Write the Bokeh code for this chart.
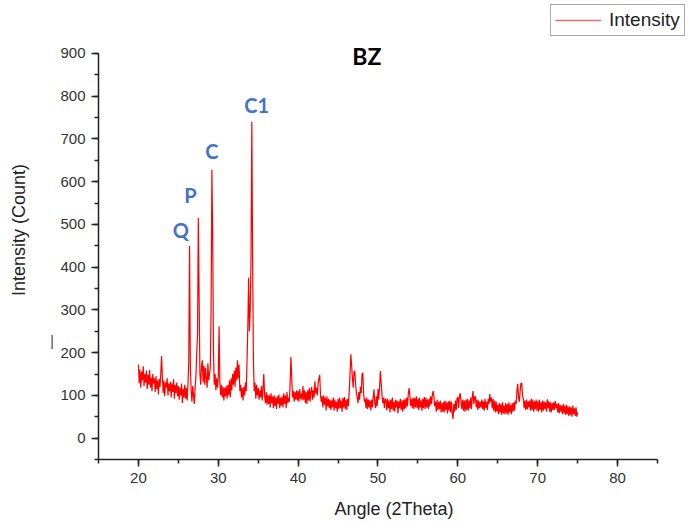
import numpy as np
from bokeh.plotting import figure
from bokeh.models import (Range1d, SingleIntervalTicker, Label, Legend, LegendItem)
from bokeh.embed import file_html
from bokeh.resources import INLINE

# ---- data ----
angle_start = 20.0
angle_step = 0.1
intensity = [
    172, 128, 160, 118, 155, 135, 168, 122, 150, 130,   # 20
    158, 115, 148, 125, 160, 118, 142, 110, 150, 128,   # 21
    140, 108, 145, 115, 135, 102, 138, 120, 152, 192,   # 22
    140, 105, 135, 98, 130, 118, 140, 100, 128, 110,    # 23
    132, 95, 128, 108, 138, 92, 125, 105, 130, 98,      # 24
    122, 90, 118, 100, 128, 82, 115, 95, 125, 92,       # 25
    118, 88, 125, 175, 450, 170, 112, 85, 122, 100,     # 26
    80, 118, 145, 200, 240, 515, 330, 150, 125, 168,    # 27
    182, 130, 170, 125, 165, 140, 118, 175, 135, 150,   # 28
    165, 300, 628, 470, 200, 125, 150, 112, 140, 118,   # 29
    142, 262, 130, 100, 125, 95, 120, 88, 118, 98,      # 30
    122, 92, 125, 100, 135, 95, 140, 112, 150, 125,     # 31
    158, 120, 165, 135, 182, 140, 172, 110, 125, 95,    # 32
    118, 88, 120, 100, 130, 110, 180, 260, 375, 250,    # 33
    300, 420, 740, 420, 180, 110, 130, 92, 125, 100,    # 34
    118, 90, 112, 95, 122, 88, 115, 150, 100, 82,       # 35
    108, 78, 102, 80, 100, 72, 105, 82, 98, 70,         # 36
    100, 75, 95, 68, 98, 80, 102, 70, 95, 76,           # 37
    98, 72, 105, 80, 100, 70, 108, 82, 95, 85,          # 38
    130, 190, 140, 95, 110, 85, 108, 90, 112, 88,       # 39
    110, 85, 115, 92, 105, 88, 122, 90, 112, 82,        # 40
    108, 80, 112, 88, 118, 85, 110, 120, 90, 112,       # 41
    95, 133, 105, 118, 100, 128, 140, 148, 100, 85,     # 42
    98, 72, 100, 78, 95, 65, 98, 74, 92, 70,            # 43
    90, 66, 88, 72, 95, 64, 90, 70, 85, 62,             # 44
    92, 68, 95, 70, 88, 62, 94, 72, 96, 68,             # 45
    90, 66, 92, 75, 110, 150, 196, 170, 140, 118,       # 46
    155, 157, 125, 105, 95, 82, 108, 90, 120, 105,      # 47
    150, 153, 105, 85, 92, 70, 95, 68, 90, 72,          # 48
    88, 65, 90, 72, 95, 114, 80, 70, 98, 75,            # 49
    115, 90, 120, 157, 130, 100, 82, 95, 70, 92,        # 50
    90, 65, 92, 70, 88, 60, 90, 68, 95, 64,             # 51
    85, 62, 90, 72, 88, 58, 86, 70, 92, 66,             # 52
    88, 62, 90, 68, 92, 70, 95, 75, 105, 117,           # 53
    98, 75, 92, 70, 95, 68, 94, 72, 98, 70,             # 54
    92, 66, 95, 72, 88, 64, 92, 70, 96, 68,             # 55
    95, 72, 90, 68, 92, 75, 98, 80, 100, 110,           # 56
    98, 75, 85, 62, 90, 66, 85, 68, 88, 60,             # 57
    82, 62, 85, 60, 88, 66, 84, 58, 86, 64,             # 58
    88, 60, 85, 58, 45, 80, 62, 88, 66, 92,             # 59
    96, 70, 98, 105, 85, 68, 90, 64, 88, 62,            # 60
    90, 66, 92, 64, 88, 70, 95, 68, 96, 110,            # 61
    80, 95, 98, 72, 90, 66, 88, 70, 85, 72,             # 62
    90, 68, 86, 64, 92, 70, 85, 66, 92, 80,             # 63
    103, 85, 95, 70, 92, 64, 88, 60, 85, 62,            # 64
    78, 56, 82, 60, 80, 54, 84, 58, 76, 56,             # 65
    82, 58, 80, 55, 84, 60, 78, 56, 82, 62,             # 66
    84, 64, 88, 80, 110, 127, 95, 85, 110, 128,         # 67
    129, 100, 92, 70, 88, 66, 90, 68, 86, 72,           # 68
    88, 64, 92, 66, 90, 62, 86, 68, 90, 64,             # 69
    86, 62, 90, 66, 84, 60, 88, 64, 86, 68,             # 70
    84, 62, 91, 70, 86, 62, 84, 60, 82, 66,             # 71
    84, 66, 87, 70, 80, 60, 82, 58, 78, 62,             # 72
    76, 56, 80, 58, 76, 54, 78, 56, 74, 52,             # 73
    74, 54, 72, 50, 76, 56, 70, 52, 72, 50,             # 74
    60,                                                 # 75
]
angle = np.round(angle_start + angle_step * np.arange(len(intensity)), 2)

peak_labels = ["Q", "P", "C", "C1"]
peak_label_x = [25.3, 26.5, 29.2, 34.8]
peak_label_y = [487, 569, 673, 780]

title_text = "BZ"
x_title = "Angle (2Theta)"
y_title = "Intensity (Count)"
series_name = "Intensity"

x_axis_bounds = (15, 85)
y_axis_bounds = (-50, 900)

# ---- figure ----
# the frame is extended up and right so the title and legend are not clipped;
# the axes themselves are limited to the original bounds.
p = figure(width=689, height=524, output_backend="svg", toolbar_location=None,
           x_range=Range1d(15, 89.01), y_range=Range1d(-50, 1024),
           min_border_left=98, min_border_right=0, min_border_top=0, min_border_bottom=65)
p.outline_line_color = None
p.xgrid.visible = False
p.ygrid.visible = False
p.background_fill_color = "white"
p.border_fill_color = "white"

line_r = p.line(angle, intensity, line_color="#ff0000", line_width=1.2)

# legend swatch (lighter, like the original's legend sample); it draws nothing in the plot
swatch = p.line(x=[np.nan], y=[np.nan], line_color="#e07070", line_width=1.3)
legend = Legend(items=[LegendItem(label=series_name, renderers=[swatch])],
                location=(452, 423), orientation="vertical",
                border_line_color="#555555", border_line_width=1,
                background_fill_color="white", background_fill_alpha=1,
                label_text_font="Liberation Sans", label_text_font_size="19px",
                label_text_color="#222222",
                glyph_width=46, glyph_height=18, label_height=18,
                label_standoff=8, padding=4, spacing=0, margin=0)
p.add_layout(legend, "center")

for ax, interval, bnds in ((p.xaxis[0], 10, x_axis_bounds), (p.yaxis[0], 100, y_axis_bounds)):
    ax.bounds = bnds
    ax.ticker = SingleIntervalTicker(interval=interval, num_minor_ticks=2)
    ax.axis_line_color = "#222222"
    ax.axis_line_width = 1.5
    ax.major_tick_line_color = "#222222"
    ax.major_tick_line_width = 1.5
    ax.minor_tick_line_color = "#222222"
    ax.minor_tick_line_width = 1.5
    ax.major_tick_in = 0
    ax.major_tick_out = 7
    ax.minor_tick_in = 0
    ax.minor_tick_out = 4
    ax.major_label_text_font = "Liberation Sans"
    ax.major_label_text_font_size = "15px"
    ax.major_label_text_color = "#333333"
    ax.axis_label_text_font = "Liberation Sans"
    ax.axis_label_text_font_size = "18px"
    ax.axis_label_text_font_style = "normal"
    ax.axis_label_text_color = "#222222"
    ax.major_label_standoff = 6

p.xaxis.axis_label = x_title
p.yaxis.axis_label = y_title
p.xaxis.axis_label_standoff = 13
p.yaxis.axis_label_standoff = 28

p.add_layout(Label(x=48.6, y=895, text=title_text, text_font="Lato",
                   text_font_style="bold", text_font_size="23px", text_color="black",
                   text_align="center", text_baseline="middle"))

for t, lx, ly in zip(peak_labels, peak_label_x, peak_label_y):
    p.add_layout(Label(x=lx, y=ly, text=t, text_font="Lato", text_font_style="bold",
                       text_font_size="20px", text_color="#4472c4",
                       text_align="center", text_baseline="middle"))

# stray mark left of the 200 tick label, as in the original
p.add_layout(Label(x=9.2, y=227, text="|", text_font="Liberation Sans",
                   text_font_size="14px", text_color="#444444",
                   text_align="center", text_baseline="middle"), "left")

open("out.html", "w").write(file_html(p, INLINE))
